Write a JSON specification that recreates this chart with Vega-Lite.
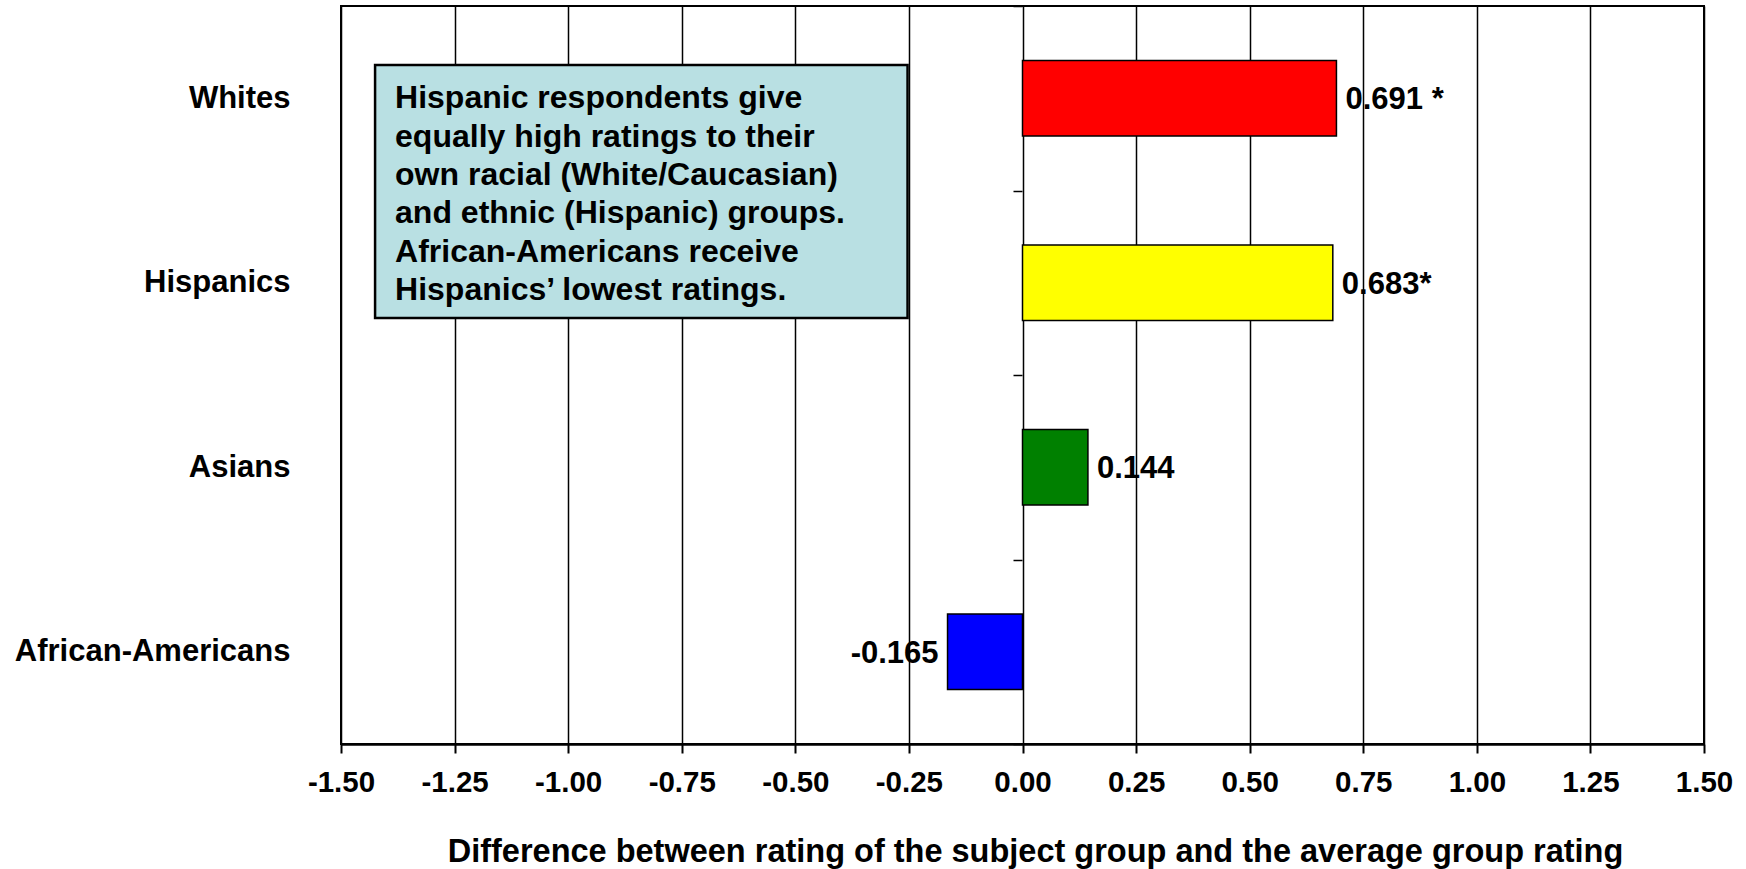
{
  "$schema": "https://vega.github.io/schema/vega-lite/v6.json",
  "width": 1363,
  "height": 738,
  "autosize": "none",
  "padding": {"left": 341, "top": 6, "right": 42, "bottom": 125},
  "background": "white",
  "config": {
    "view": {"stroke": "black", "strokeWidth": 2},
    "font": "Liberation Sans",
    "axis": {"labelColor": "black", "titleColor": "black", "labelFontWeight": "bold", "titleFontWeight": "bold"}
  },
  "data": {
    "values": [
      {"group": "Whites", "value": 0.691, "label": "0.691 *"},
      {"group": "Hispanics", "value": 0.683, "label": "0.683*"},
      {"group": "Asians", "value": 0.144, "label": "0.144"},
      {"group": "African-Americans", "value": -0.165, "label": "-0.165"}
    ]
  },
  "resolve": {"scale": {"y": "independent"}, "axis": {"y": "independent"}},
  "layer": [
    {
      "mark": {"type": "bar", "stroke": "black", "strokeWidth": 1.5, "height": {"band": 0.41}},
      "encoding": {
        "y": {
          "field": "group", "type": "nominal",
          "scale": {"domain": ["Whites", "Hispanics", "Asians", "African-Americans"], "paddingInner": 0, "paddingOuter": 0},
          "axis": {"orient": "left", "offset": -681, "labels": false, "domain": false, "ticks": true, "tickBand": "extent", "tickColor": "black", "tickSize": 9, "tickWidth": 1.5, "title": null, "grid": false}
        },
        "x": {
          "field": "value", "type": "quantitative",
          "scale": {"domain": [-1.5, 1.5], "nice": false, "zero": false},
          "axis": {
            "values": [-1.5, -1.25, -1, -0.75, -0.5, -0.25, 0, 0.25, 0.5, 0.75, 1, 1.25, 1.5],
            "labelExpr": "(datum.value < 0 ? '-' : '') + format(abs(datum.value), '.2f')",
            "labelOverlap": false,
            "labelFlush": false,
            "grid": true, "gridColor": "black", "gridWidth": 1.5, "gridOpacity": 1,
            "domainColor": "black", "domainWidth": 2.5,
            "tickColor": "black", "tickWidth": 2, "tickSize": 9,
            "labelFontSize": 29.5, "labelPadding": 15,
            "title": "Difference between rating of the subject group and the average group rating",
            "titleFontSize": 32.5, "titlePadding": 39, "titleX": 694
          }
        },
        "color": {
          "field": "group", "type": "nominal",
          "scale": {"domain": ["Whites", "Hispanics", "Asians", "African-Americans"], "range": ["#FF0000", "#FFFF00", "#008000", "#0000FF"]},
          "legend": null
        }
      }
    },
    {
      "transform": [{"filter": "datum.value >= 0"}],
      "mark": {"type": "text", "align": "left", "baseline": "middle", "dx": 9, "dy": 2, "fontSize": 31, "fontWeight": "bold", "color": "black"},
      "encoding": {
        "y": {
          "field": "group", "type": "nominal",
          "scale": {"domain": ["Whites", "Hispanics", "Asians", "African-Americans"]},
          "axis": {"orient": "left", "labelFontSize": 31, "labelPadding": 51, "labelLimit": 0, "ticks": false, "domain": false, "title": null, "grid": false}
        },
        "x": {"field": "value", "type": "quantitative"},
        "text": {"field": "label"}
      }
    },
    {
      "transform": [{"filter": "datum.value < 0"}],
      "mark": {"type": "text", "align": "right", "baseline": "middle", "dx": -9, "dy": 2, "fontSize": 31, "fontWeight": "bold", "color": "black"},
      "encoding": {
        "y": {
          "field": "group", "type": "nominal",
          "scale": {"domain": ["Whites", "Hispanics", "Asians", "African-Americans"]},
          "axis": null
        },
        "x": {"field": "value", "type": "quantitative"},
        "text": {"field": "label"}
      }
    },
    {
      "data": {"values": [{"note": "annotation"}]},
      "layer": [
        {
          "mark": {"type": "rect", "fill": "#B9E0E3", "stroke": "black", "strokeWidth": 2.5},
          "encoding": {
            "x": {"datum": -1.425},
            "x2": {"datum": -0.253},
            "y": {"datum": 0.32, "type": "quantitative", "scale": {"domain": [0, 4], "reverse": true, "nice": false, "zero": false}, "axis": null},
            "y2": {"datum": 1.691}
          }
        },
        {
          "mark": {
            "type": "text", "align": "left", "baseline": "middle", "fontSize": 32, "fontWeight": "bold", "color": "black", "lineHeight": 38.3,
            "text": ["Hispanic respondents give", "equally high ratings to their", "own racial (White/Caucasian)", "and ethnic (Hispanic) groups.", "African-Americans receive", "Hispanics\u2019 lowest ratings."]
          },
          "encoding": {
            "x": {"datum": -1.381},
            "y": {"datum": 0.501, "type": "quantitative"}
          }
        }
      ]
    }
  ]
}
